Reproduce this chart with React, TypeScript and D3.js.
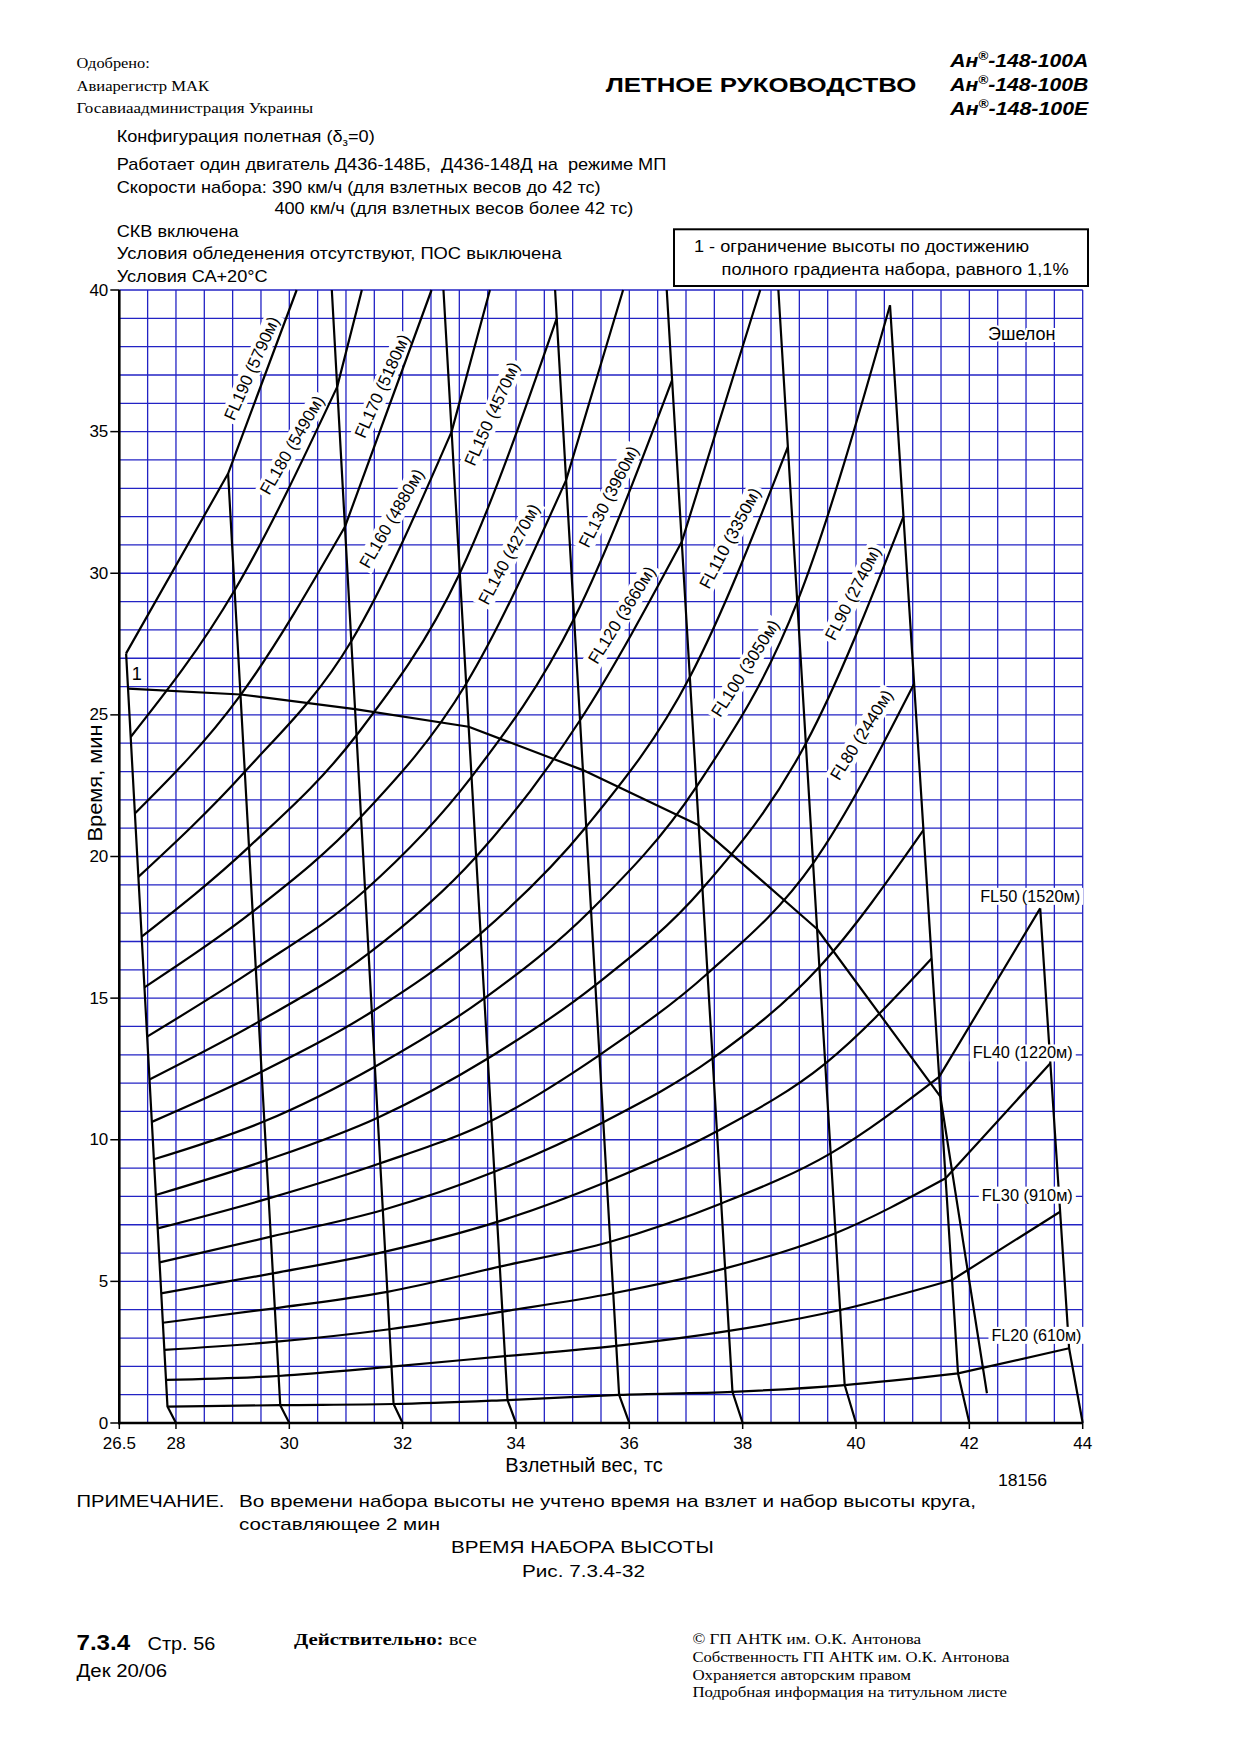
import React from "react";
import * as d3 from "d3";

// ---------------- DATA ----------------
// Take-off weight lines (tf)
const WEIGHTS = [28, 30, 32, 34, 36, 38, 40, 42, 44];
// x position (on the weight axis) where each weight line bends (at FL20)
const WEIGHT_KINK_X = [27.85, 29.84, 31.84, 33.85, 35.82, 37.82, 39.8, 41.8, 43.76];
// upper end of each weight line
const WEIGHT_TOP_X = [27.12, 28.92, 30.75, 32.72, 34.69, 36.66, 38.63, 40.6, 43.25];
const WEIGHT_TOP_T = [27.17, 33.52, 40, 40, 40, 40, 40, 39.46, 18.17];

// Flight levels
const FL_NAMES = ["FL20", "FL30", "FL40", "FL50", "FL60", "FL70", "FL80", "FL90", "FL100", "FL110", "FL120", "FL130", "FL140", "FL150", "FL160", "FL170", "FL180", "FL190"];
const FL_METERS = [610, 910, 1220, 1520, 1830, 2130, 2440, 2740, 3050, 3350, 3660, 3960, 4270, 4570, 4880, 5180, 5490, 5790];
// climb time (min) read at the weight lines 28, 30, 32, ... tf
const FL_TIMES: number[][] = [
  [0.58, 0.63, 0.67, 0.81, 0.99, 1.1, 1.34, 1.75, 2.64],
  [1.52, 1.66, 1.99, 2.36, 2.72, 3.25, 3.99, 5.05, 7.46],
  [2.58, 2.87, 3.31, 3.93, 4.58, 5.46, 6.7, 8.64, 12.7],
  [3.54, 4.05, 4.63, 5.52, 6.4, 7.75, 9.52, 12.22, 18.17],
  [4.58, 5.28, 6.05, 7.1, 8.52, 10.3, 12.69, 16.4],
  [5.67, 6.58, 7.52, 8.87, 10.62, 12.87, 16.1, 20.93],
  [6.87, 7.93, 9.17, 10.67, 12.99, 15.87, 19.76, 26.1],
  [8.05, 9.28, 10.78, 12.87, 15.46, 18.87, 23.99, 32.0],
  [9.31, 10.65, 12.58, 14.99, 18.11, 22.46, 28.99, 39.46],
  [10.63, 12.4, 14.52, 17.28, 21.05, 26.34, 34.46],
  [12.13, 14.17, 16.58, 19.99, 24.81, 31.11],
  [13.64, 16.05, 18.81, 22.81, 28.4, 36.82],
  [15.38, 18.05, 21.4, 26.1, 33.29],
  [17.17, 20.34, 24.28, 30.0, 39.0],
  [19.28, 22.99, 27.6, 35.0],
  [21.52, 25.7, 31.64],
  [24.22, 29.4, 36.58],
  [27.17, 33.52],
];
// weight-axis position where a curve leaves the top of the grid (40 min)
const FL_TOP_EXIT_X: (number | null)[] = [null, null, null, null, null, null, null, null, null, null, 38.31, null, 35.89, null, 33.54, 32.51, 31.28, 30.13];

// Limit line "1" (full climb gradient 1.1 %), time at weight lines 28..42
const LIMIT_TIMES = [25.93, 25.72, 25.2, 24.58, 23.05, 21.1, 17.44, 11.52];
const LIMIT_END = [42.31, 1.05];

// Axes
const X_TICKS = [27, 28, 30, 32, 34, 36, 38, 40, 42, 44];
const X_TICK_LABELS = ["26.5", "28", "30", "32", "34", "36", "38", "40", "42", "44"];
const Y_TICKS = [0, 5, 10, 15, 20, 25, 30, 35, 40];

// ---------------- LAYOUT ----------------
const W = 1240;
const H = 1755;
const SANS = "'Liberation Sans', Arial, sans-serif";
const SERIF = "'Liberation Serif', 'Times New Roman', serif";
const GRID = "#2323c4";

// rotated label annotations (data coordinates of centre, angle)
const ROT_LABELS = [
  { i: 17, x: 29.34, t: 37.23, a: -66 },
  { i: 16, x: 30.05, t: 34.52, a: -60 },
  { i: 15, x: 31.64, t: 36.6, a: -66 },
  { i: 14, x: 31.81, t: 31.93, a: -60 },
  { i: 13, x: 33.58, t: 35.62, a: -66 },
  { i: 12, x: 33.88, t: 30.67, a: -62 },
  { i: 11, x: 35.64, t: 32.7, a: -63 },
  { i: 10, x: 35.87, t: 28.52, a: -58 },
  { i: 9, x: 37.78, t: 31.23, a: -62 },
  { i: 8, x: 38.05, t: 26.64, a: -57.5 },
  { i: 7, x: 39.95, t: 29.29, a: -63 },
  { i: 6, x: 40.1, t: 24.29, a: -58 },
];
const H_LABELS = [
  { i: 3, x: 42.19, t: 18.4, w: 100 },
  { i: 2, x: 42.06, t: 12.87, w: 100 },
  { i: 1, x: 42.22, t: 7.85, w: 91 },
  { i: 0, x: 42.39, t: 2.9, w: 90 },
];

function weightX(i: number, t: number): number {
  const w = WEIGHTS[i];
  const kx = WEIGHT_KINK_X[i];
  const kt = FL_TIMES[0][i];
  if (t <= kt) return w + (kx - w) * (t / kt);
  const tx = WEIGHT_TOP_X[i];
  const tt = WEIGHT_TOP_T[i];
  return kx + ((tx - kx) * (t - kt)) / (tt - kt);
}

type P = [number, number];

function Txt(props: any) {
  const { x, y, size = 17, family = SANS, weight, style, len, anchor, children, fill = "#000" } = props;
  return (
    <text
      x={x}
      y={y}
      fontSize={size}
      fontFamily={family}
      fontWeight={weight}
      fontStyle={style}
      textAnchor={anchor}
      fill={fill}
      textLength={len}
      lengthAdjust={len ? "spacingAndGlyphs" : undefined}
      style={{ whiteSpace: "pre" }}
    >
      {children}
    </text>
  );
}

export default function App() {
  const xS = d3.scaleLinear().domain([27, 44]).range([119.3, 1082.7]);
  const yS = d3.scaleLinear().domain([0, 40]).range([1423, 290]);

  const smooth = d3
    .line<P>()
    .x((d) => xS(d[0]))
    .y((d) => yS(d[1]))
    .curve(d3.curveMonotoneX);
  const straight = d3
    .line<P>()
    .x((d) => xS(d[0]))
    .y((d) => yS(d[1]));

  const vGrid = d3.range(27, 44.001, 0.5);
  const hGrid = d3.range(0, 40.001, 1);

  // FL curves
  const flPaths = FL_TIMES.map((times, k) => {
    const pts: P[] = times.map((t, i) => [weightX(i, t), t]);
    const main = pts.slice(0, Math.min(pts.length, 8));
    let d = smooth(main) || "";
    if (pts.length > 8) d += straight([pts[7], pts[8]]) || "";
    const ex = FL_TOP_EXIT_X[k];
    if (ex != null) d += straight([pts[pts.length - 1], [ex, 40]]) || "";
    return d;
  });

  // weight lines
  const wPaths = WEIGHTS.map((w, i) =>
    straight([
      [w, 0],
      [WEIGHT_KINK_X[i], FL_TIMES[0][i]],
      [WEIGHT_TOP_X[i], WEIGHT_TOP_T[i]],
    ])
  );

  const limitPts: P[] = LIMIT_TIMES.map((t, i) => [weightX(i, t), t] as P);
  limitPts.push([LIMIT_END[0], LIMIT_END[1]]);
  const limitPath = straight(limitPts);

  return (
    <div style={{ position: "absolute", left: 0, top: 0, width: W, height: H, background: "#fff" }}>
      <svg width={W} height={H} viewBox={`0 0 ${W} ${H}`} style={{ display: "block" }}>
        <rect x={0} y={0} width={W} height={H} fill="#fff" />

        {/* header left */}
        <Txt x={76.5} y={68.3} size={15} family={SERIF} len={73.3}>Одобрено:</Txt>
        <Txt x={76.5} y={91} size={15} family={SERIF} len={132.5}>Авиарегистр МАК</Txt>
        <Txt x={76.5} y={113} size={15} family={SERIF} len={236.6}>Госавиаадминистрация Украины</Txt>
        {/* header centre */}
        <Txt x={605.7} y={92} size={21} weight="bold" len={310.7}>ЛЕТНОЕ РУКОВОДСТВО</Txt>
        {["А", "В", "Е"].map((s, i) => (
          <text key={s} x={950.3} y={[66.7, 90.7, 115][i]} fontSize={19} fontFamily={SANS} fontWeight="bold" fontStyle="italic" textLength={138} lengthAdjust="spacingAndGlyphs">
            Ан<tspan fontSize={12} dy={-7}>®</tspan>
            <tspan dy={7}>{`-148-100${s}`}</tspan>
          </text>
        ))}

        {/* conditions */}
        <text x={116.7} y={141.7} fontSize={17} fontFamily={SANS} textLength={258} lengthAdjust="spacingAndGlyphs">
          Конфигурация полетная (δ<tspan fontSize={11} dy={4}>з</tspan>
          <tspan dy={-4}>=0)</tspan>
        </text>
        <Txt x={116.7} y={170} len={549.7}>Работает один двигатель Д436-148Б,  Д436-148Д на  режиме МП</Txt>
        <Txt x={116.7} y={192.7} len={484}>Скорости набора: 390 км/ч (для взлетных весов до 42 тс)</Txt>
        <Txt x={274.4} y={214.3} len={359}>400 км/ч (для взлетных весов более 42 тс)</Txt>
        <Txt x={116.7} y={237.3} len={122}>СКВ включена</Txt>
        <Txt x={116.7} y={259.3} len={445}>Условия обледенения отсутствуют, ПОС выключена</Txt>
        <Txt x={116.7} y={281.7} len={151}>Условия СА+20°С</Txt>

        {/* legend box */}
        <rect x={674} y={229.3} width={414} height={56.7} fill="#fff" stroke="#000" strokeWidth={2} />
        <Txt x={694} y={251.7} len={335}>1 - ограничение высоты по достижению</Txt>
        <Txt x={721.6} y={275} len={347}>полного градиента набора, равного 1,1%</Txt>

        {/* grid */}
        <g stroke={GRID} strokeWidth={1.3}>
          {vGrid.map((v) => (
            <line key={"v" + v} x1={xS(v)} x2={xS(v)} y1={yS(0)} y2={yS(40)} />
          ))}
          {hGrid.map((v) => (
            <line key={"h" + v} x1={xS(27)} x2={xS(44)} y1={yS(v)} y2={yS(v)} />
          ))}
        </g>

        {/* rotated FL labels (under curves, on white boxes) */}
        <g fontFamily={SANS} fontSize={17}>
          {ROT_LABELS.map((l) => {
            const label = `${FL_NAMES[l.i]} (${FL_METERS[l.i]}м)`;
            const w = label.length * 8.55;
            return (
              <g key={"rl" + l.i} transform={`translate(${xS(l.x)},${yS(l.t)}) rotate(${l.a})`}>
                <rect x={-w / 2 - 3} y={-10} width={w + 6} height={20} fill="#fff" />
                <text textAnchor="middle" dominantBaseline="central" textLength={w} lengthAdjust="spacingAndGlyphs">
                  {label}
                </text>
              </g>
            );
          })}
          <text x={xS(42.33)} y={yS(38.23)} fontSize={18} stroke="#fff" strokeWidth={4} paintOrder="stroke">
            Эшелон
          </text>
        </g>

        {/* curves */}
        <g fill="none" stroke="#000" strokeWidth={2.2} strokeLinejoin="round">
          {flPaths.map((d, k) => (
            <path key={"fl" + k} d={d} />
          ))}
          {wPaths.map((d, k) => (
            <path key={"w" + k} d={d || ""} />
          ))}
          <path d={limitPath || ""} />
        </g>
        <text x={xS(27.22)} y={yS(26.23)} fontFamily={SANS} fontSize={18}>1</text>

        {/* horizontal FL labels sit on top of the weight line */}
        <g fontFamily={SANS} fontSize={17}>
          {H_LABELS.map((l) => (
            <g key={"hl" + l.i}>
              <rect x={xS(l.x) - 3} y={yS(l.t) - 14} width={l.w + 6} height={17} fill="#fff" />
              <text x={xS(l.x)} y={yS(l.t)} textLength={l.w} lengthAdjust="spacingAndGlyphs">
                {`${FL_NAMES[l.i]} (${FL_METERS[l.i]}м)`}
              </text>
            </g>
          ))}
        </g>

        {/* axes */}
        <g stroke="#000" strokeWidth={2.6}>
          <line x1={xS(27)} x2={xS(27)} y1={yS(0) + 1.3} y2={yS(40)} />
          <line x1={xS(27) - 1.3} x2={xS(44)} y1={yS(0)} y2={yS(0)} />
        </g>
        <g stroke="#000" strokeWidth={1.5}>
          {Y_TICKS.map((v) => (
            <line key={"yt" + v} x1={xS(27) - 9} x2={xS(27)} y1={yS(v)} y2={yS(v)} />
          ))}
          {X_TICKS.map((v) => (
            <line key={"xt" + v} x1={xS(v)} x2={xS(v)} y1={yS(0)} y2={yS(0) + 6} />
          ))}
        </g>
        <g fontFamily={SANS} fontSize={17}>
          {Y_TICKS.map((v) => (
            <text key={"yl" + v} x={xS(27) - 11} y={yS(v)} textAnchor="end" dominantBaseline="central">
              {v}
            </text>
          ))}
          {X_TICKS.map((v, i) => (
            <text key={"xl" + v} x={xS(v)} y={1449} textAnchor="middle">
              {X_TICK_LABELS[i]}
            </text>
          ))}
        </g>
        <text transform="translate(102,783) rotate(-90)" fontFamily={SANS} fontSize={21} textAnchor="middle" textLength={117} lengthAdjust="spacingAndGlyphs">
          Время, мин
        </text>
        <text x={(xS(27) + xS(44)) / 2 - 17} y={1471.7} fontFamily={SANS} fontSize={20} textAnchor="middle">
          Взлетный вес, тс
        </text>
        <Txt x={998} y={1486} size={16} len={49}>18156</Txt>

        {/* footnotes */}
        <Txt x={76.5} y={1506.7} len={148}>ПРИМЕЧАНИЕ.</Txt>
        <Txt x={239} y={1506.7} len={737}>Во времени набора высоты не учтено время на взлет и набор высоты круга,</Txt>
        <Txt x={239} y={1530} len={201}>составляющее 2 мин</Txt>
        <Txt x={451} y={1553.3} len={262.7}>ВРЕМЯ НАБОРА ВЫСОТЫ</Txt>
        <Txt x={522} y={1577.3} len={123}>Рис. 7.3.4-32</Txt>

        <Txt x={76.5} y={1650} size={22} weight="bold" len={53.6}>7.3.4</Txt>
        <Txt x={147.5} y={1650} size={18} len={67.8}>Стр. 56</Txt>
        <Txt x={76.5} y={1676.7} size={18} len={90.7}>Дек 20/06</Txt>
        <text x={294} y={1645} fontFamily={SERIF} fontSize={17} textLength={183} lengthAdjust="spacingAndGlyphs">
          <tspan fontWeight="bold">Действительно:</tspan> все
        </text>
        <Txt x={692.4} y={1644} size={15} family={SERIF} len={228.7}>© ГП АНТК им. О.К. Антонова</Txt>
        <Txt x={692.4} y={1661.7} size={15} family={SERIF} len={317}>Собственность ГП АНТК им. О.К. Антонова</Txt>
        <Txt x={692.4} y={1680} size={15} family={SERIF} len={218.5}>Охраняется авторским правом</Txt>
        <Txt x={692.4} y={1696.7} size={15} family={SERIF} len={314.7}>Подробная информация на титульном листе</Txt>
      </svg>
    </div>
  );
}
